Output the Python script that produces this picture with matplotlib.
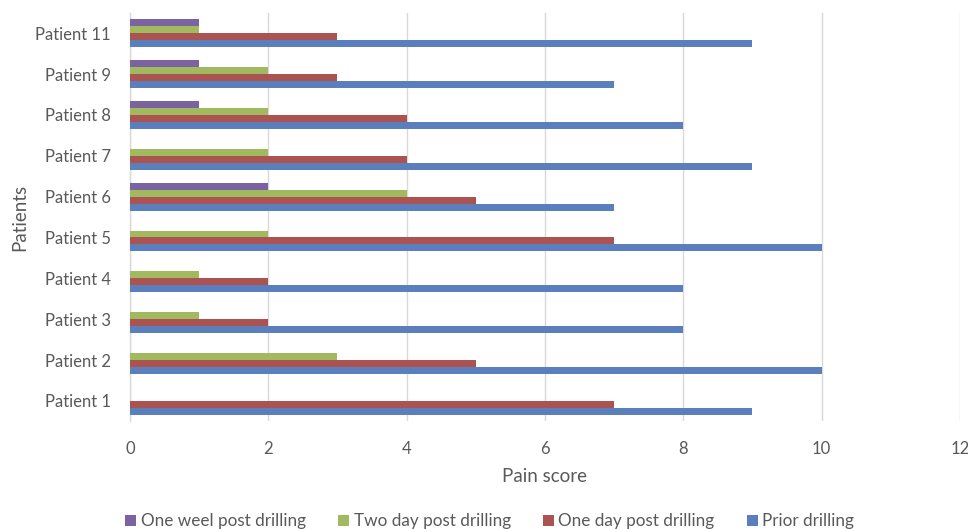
import numpy as np
import matplotlib.pyplot as plt

# Данные: пациенты и баллы боли
patients = ["Patient 1", "Patient 2", "Patient 3", "Patient 4", "Patient 5",
            "Patient 6", "Patient 7", "Patient 8", "Patient 9", "Patient 11"]
prior = [9, 10, 8, 8, 10, 7, 9, 8, 7, 9]
one_day = [7, 5, 2, 2, 7, 5, 4, 4, 3, 3]
two_day = [0, 3, 1, 1, 2, 4, 2, 2, 2, 1]
one_week = [0, 0, 0, 0, 0, 2, 0, 1, 1, 1]

series = [
    ("Prior drilling", prior, "#5B7FBD"),
    ("One day post drilling", one_day, "#AA5350"),
    ("Two day post drilling", two_day, "#A2BA5F"),
    ("One weel post drilling", one_week, "#7A63A0"),
]

text_color = "#595959"
plt.rcParams['font.family'] = ['Lato', 'DejaVu Sans']

fig = plt.figure(figsize=(9.68, 5.29), dpi=100)
ax = fig.add_axes([0.1343, 0.2034, 0.8574, 0.7726])

y = np.arange(len(patients))
h = 0.17
offsets = [-0.255, -0.085, 0.085, 0.255]
handles = []
for (name, vals, col), off in zip(series, offsets):
    b = ax.barh(y + off, vals, height=h, color=col, label=name, zorder=3)
    handles.append(b)

ax.set_xlim(0, 12)
ax.set_ylim(-0.5, len(patients) - 0.5)
ax.set_xticks(range(0, 13, 2))
ax.set_yticks(y)
ax.set_yticklabels(patients)
ax.tick_params(axis='both', length=0, labelsize=12, colors=text_color)
ax.tick_params(axis='x', pad=14)
ax.tick_params(axis='y', pad=14)

ax.grid(axis='x', color="#D9D9D9", linewidth=1, zorder=0)
for s in ["top", "right", "bottom"]:
    ax.spines[s].set_visible(False)
ax.spines["left"].set_color("#D9D9D9")
ax.spines["left"].set_linewidth(1)

ax.set_xlabel("Pain score", fontsize=13.5, color=text_color, labelpad=8)
ax.set_ylabel("Patients", fontsize=13.5, color=text_color)
ax.yaxis.set_label_coords(-0.122, 0.5)

# Легенда внизу в обратном порядке
leg = fig.legend(handles[::-1], [s[0] for s in series][::-1],
                 loc="lower center", bbox_to_anchor=(0.506, -0.03), ncol=4,
                 frameon=False, fontsize=12.3, handlelength=0.65, handleheight=0.65,
                 handletextpad=0.25, columnspacing=1.9)
for t in leg.get_texts():
    t.set_color(text_color)

fig.savefig("out.png", dpi=100)
